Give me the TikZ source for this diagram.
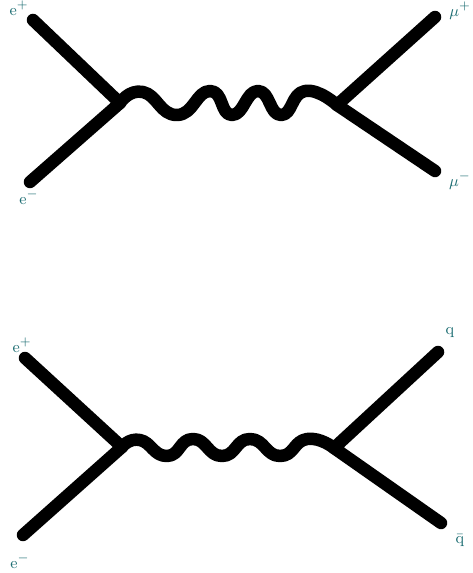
\documentclass[tikz,border=0pt]{standalone}
\usepackage{amsmath,amssymb}
\usetikzlibrary{arrows.meta}

\definecolor{labteal}{RGB}{30,110,115}

\begin{document}
\begin{tikzpicture}[x=0.02cm, y=-0.02cm,
	fermion/.style={line width=0.25cm, line cap=round, line join=round},
	photon/.style={line width=0.25cm, line cap=round, line join=round, smooth, tension=0.9},
	lab/.style={labteal, font=\fontsize{9.5}{10}\selectfont, inner sep=0pt}]
	\useasboundingbox (0,0) rectangle (472,573);
	% e+ e- -> mu+ mu-
	\coordinate (v1) at (120,103);
	\coordinate (v2) at (337,105);
	\coordinate (ep1) at (33,20);
	\coordinate (em1) at (30,182);
	\coordinate (mp) at (435,17);
	\coordinate (mm) at (435,171);
	\draw[fermion] (ep1) -- (v1) -- (em1);
	\draw[fermion] (mp) -- (v2) -- (mm);
	\draw[photon] plot coordinates {(v1) (143,92) (177,115) (210,91) (232,115) (258,91) (281,115) (305,91) (v2)};
	\node[lab] (lep1) at (19,8) {$\mathrm{e}^{+}$};
	\node[lab] (lem1) at (29,197) {$\mathrm{e}^{-}$};
	\node[lab] (lmp) at (460,11) {$\mu^{+}$};
	\node[lab] (lmm) at (460,181) {$\mu^{-}$};
	% e+ e- -> q qbar
	\coordinate (v3) at (122,447);
	\coordinate (v4) at (334,448);
	\coordinate (ep2) at (25,358);
	\coordinate (em2) at (23,535);
	\coordinate (q) at (438,352);
	\coordinate (qb) at (441,523);
	\draw[fermion] (ep2) -- (v3) -- (em2);
	\draw[fermion] (q) -- (v4) -- (qb);
	\draw[photon] plot coordinates {(v3) (140,440) (167,456) (193,439) (222,456) (250,439) (280,456) (307,439) (v4)};
	\node[lab] (lep2) at (22,345) {$\mathrm{e}^{+}$};
	\node[lab] (lem2) at (20,561) {$\mathrm{e}^{-}$};
	\node[lab] (lq) at (450,333) {$\mathrm{q}$};
	\node[lab] (lqb) at (460,541) {$\bar{\mathrm{q}}$};
\end{tikzpicture}
\end{document}
